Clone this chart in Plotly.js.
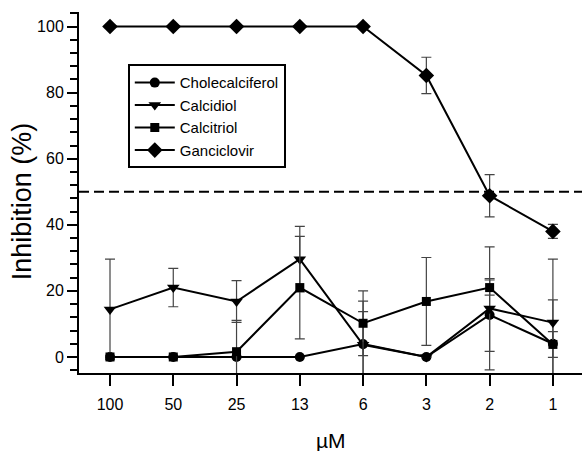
<!DOCTYPE html>
<html>
<head>
<meta charset="utf-8">
<script src="https://cdn.plot.ly/plotly-3.0.1.min.js"></script>
<style>html,body{margin:0;padding:0;background:#fff}#chart{width:582px;height:451px}</style>
</head>
<body>
<div id="chart"></div>
<script>
const concentrations = ["100", "50", "25", "13", "6", "3", "2", "1"];
const cholecalciferol = [0, 0, 0, 0, 3.9, 0, 12.7, 4];
const cholecalciferolErr = [0, 0, 0, 0, 13, 0, 11, 13.3];
const calcidiol = [14.4, 21, 16.8, 29.6, 3.7, 0, 14.7, 10.4];
const calcidiolErr = [15.2, 5.8, 6.3, 9.9, 10, 0, 18.6, 19.2];
const calcitriol = [0, 0, 1.6, 21, 10.2, 16.8, 21, 3.8];
const calcitriolErr = [0, 0, 9.5, 15.5, 9.8, 13.3, 2.3, 3.9];
const ganciclovir = [100, 100, 100, 100, 100, 85.2, 48.8, 38];
const ganciclovirErr = [0, 0, 0, 0, 0, 5.5, 6.4, 2.1];
const thresholdValue = 50;

const xIdx = concentrations.map((_, i) => i);
const FONT = "Liberation Sans, Arial, sans-serif";

function series(name, y, err, symbol, size) {
  return {
    type: "scatter", mode: "lines+markers", name: name,
    x: xIdx, y: y,
    line: {color: "#000", width: 2},
    marker: {symbol: symbol, size: size, color: "#000"},
    error_y: {type: "data", array: err, visible: true, color: "#444", thickness: 1.2, width: 5},
    cliponaxis: true
  };
}

const traces = [
  series("Cholecalciferol", cholecalciferol, cholecalciferolErr, "circle", 10),
  series("Calcidiol", calcidiol, calcidiolErr, "triangle-down", 11),
  series("Calcitriol", calcitriol, calcitriolErr, "square", 9),
  series("Ganciclovir", ganciclovir, ganciclovirErr, "diamond", 12)
];

const layout = {
  width: 582, height: 451,
  margin: {l: 79, r: 0, t: 12, b: 78},
  paper_bgcolor: "#fff", plot_bgcolor: "#fff",
  font: {family: FONT, color: "#000", size: 16},
  showlegend: true,
  legend: {
    x: 0.097, y: 0.855, xanchor: "left", yanchor: "top",
    bordercolor: "#000", borderwidth: 2, bgcolor: "#fff",
    font: {family: FONT, size: 15, color: "#000"},
    itemwidth: 40, tracegroupgap: 0
  },
  xaxis: {
    range: [-0.49, 7.46],
    tickvals: xIdx, ticktext: concentrations,
    showgrid: false, zeroline: false,
    showline: true, linecolor: "#000", linewidth: 2,
    ticks: "outside", ticklen: 11, tickwidth: 2, tickcolor: "#000",
    ticklabelstandoff: 5,
    tickfont: {family: FONT, size: 16, color: "#000"}
  },
  yaxis: {
    range: [-4.85, 104.4],
    tickvals: [0, 20, 40, 60, 80, 100],
    showgrid: false, zeroline: false,
    showline: true, linecolor: "#000", linewidth: 2,
    ticks: "outside", ticklen: 10, tickwidth: 2, tickcolor: "#000",
    minor: {dtick: 4, tick0: 0, ticks: "outside", ticklen: 7, tickwidth: 2, tickcolor: "#000"},
    tickfont: {family: FONT, size: 16, color: "#000"}
  },
  shapes: [{
    type: "line", xref: "paper", x0: 0, x1: 1, yref: "y", y0: thresholdValue, y1: thresholdValue,
    line: {color: "#000", width: 2, dash: "10px,5px"}
  }],
  annotations: [
    {text: "Inhibition (%)", xref: "paper", yref: "paper", x: -0.113, y: 0.476,
     xanchor: "center", yanchor: "middle",
     textangle: -90, showarrow: false, font: {family: FONT, size: 27, color: "#000"}},
    {text: "µM", xref: "paper", yref: "paper", x: 0.5, y: -0.186,
     xanchor: "center", yanchor: "middle",
     showarrow: false, font: {family: FONT, size: 21, color: "#000"}}
  ]
};

Plotly.newPlot("chart", traces, layout, {displayModeBar: false, staticPlot: true});
</script>
</body>
</html>
